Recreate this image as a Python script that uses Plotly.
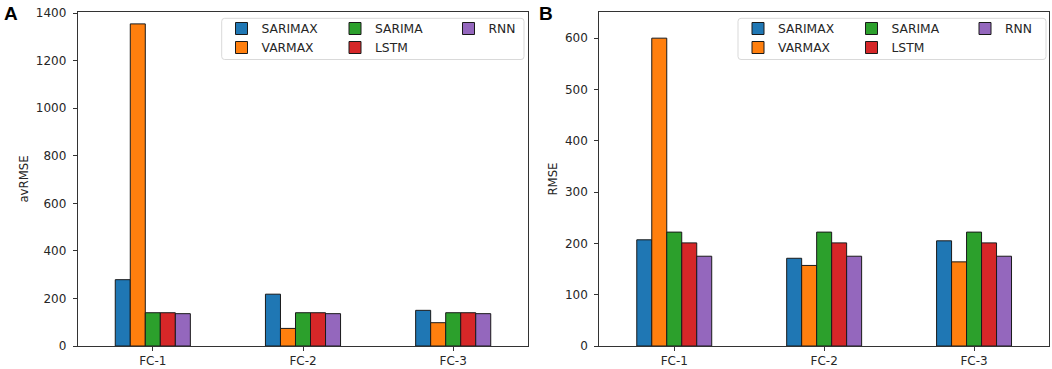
import plotly.graph_objects as go

categories = ["FC-1", "FC-2", "FC-3"]
models = ["SARIMAX", "VARMAX", "SARIMA", "LSTM", "RNN"]
colors = ["#1f77b4", "#ff7f0e", "#2ca02c", "#d62728", "#9467bd"]
groups = ["g1", "g1", "g2", "g2", "g3"]

avrmse_sarimax = [279, 218, 150]
avrmse_varmax = [1355, 74, 98]
avrmse_sarima = [140, 140, 140]
avrmse_lstm = [140, 140, 140]
avrmse_rnn = [136, 136, 136]

rmse_sarimax = [207, 171, 205]
rmse_varmax = [600, 157, 164]
rmse_sarima = [222, 222, 222]
rmse_lstm = [201, 201, 201]
rmse_rnn = [175, 175, 175]

panel_a = [avrmse_sarimax, avrmse_varmax, avrmse_sarima, avrmse_lstm, avrmse_rnn]
panel_b = [rmse_sarimax, rmse_varmax, rmse_sarima, rmse_lstm, rmse_rnn]

FONT = "DejaVu Sans"
TXT = "#262626"
W, H = 1052, 369


def px(x):
    return x / W


def py(y):
    return 1 - y / H


def rounded_box(x0, y0, x1, y1, r=3):
    pts = [
        f"M{px(x0 + r)},{py(y0)}",
        f"L{px(x1 - r)},{py(y0)}",
        f"Q{px(x1)},{py(y0)} {px(x1)},{py(y0 + r)}",
        f"L{px(x1)},{py(y1 - r)}",
        f"Q{px(x1)},{py(y1)} {px(x1 - r)},{py(y1)}",
        f"L{px(x0 + r)},{py(y1)}",
        f"Q{px(x0)},{py(y1)} {px(x0)},{py(y1 - r)}",
        f"L{px(x0)},{py(y0 + r)}",
        f"Q{px(x0)},{py(y0)} {px(x0 + r)},{py(y0)}",
        "Z",
    ]
    return dict(type="path", xref="paper", yref="paper", path=" ".join(pts),
                fillcolor="white", line=dict(color="#d9d9d9", width=1), layer="above")


fig = go.Figure()
for name, col, grp, vals in zip(models, colors, groups, panel_a):
    fig.add_trace(go.Bar(x=categories, y=vals, name=name, marker=dict(color=col, line=dict(color="#1a1a1a", width=1)),
                         xaxis="x", yaxis="y", legend="legend", legendgroup=grp + "a"))
for name, col, grp, vals in zip(models, colors, groups, panel_b):
    fig.add_trace(go.Bar(x=categories, y=vals, name=name, marker=dict(color=col, line=dict(color="#1a1a1a", width=1)),
                         xaxis="x2", yaxis="y2", legend="legend2", legendgroup=grp + "b"))

axis_common = dict(showline=True, mirror=True, linecolor="#333333", linewidth=1, ticks="outside", ticklen=4,
                   tickcolor="#333333", showgrid=False, zeroline=False, automargin=False,
                   tickfont=dict(family=FONT, size=12, color=TXT))

legend_common = dict(orientation="h", traceorder="grouped", xanchor="left", yanchor="top",
                     bgcolor="rgba(0,0,0,0)", borderwidth=0, entrywidth=68.5,
                     font=dict(family=FONT, size=12.3, color=TXT), tracegroupgap=0)

ydom = [py(346), py(12)]
fig.update_layout(
    width=W, height=H, autosize=False, margin=dict(l=0, r=0, t=0, b=0, autoexpand=False),
    plot_bgcolor="white", paper_bgcolor="white",
    barmode="group", bargap=0.5, bargroupgap=0,
    xaxis=dict(domain=[px(77.7), px(528.3)], type="category", range=[-0.5, 2.5], anchor="y", **axis_common),
    yaxis=dict(domain=ydom, range=[0, 1405], dtick=200, anchor="x", ticklabelstandoff=4,
               title=dict(text="avRMSE", standoff=4.5, font=dict(family=FONT, size=11.7, color=TXT)), **axis_common),
    xaxis2=dict(domain=[px(599.3), px(1049)], type="category", range=[-0.5, 2.5], anchor="y2", **axis_common),
    yaxis2=dict(domain=ydom, range=[0, 651], dtick=100, anchor="x2", ticklabelstandoff=4,
                title=dict(text="RMSE", standoff=4.5, font=dict(family=FONT, size=11.7, color=TXT)), **axis_common),
    legend=dict(x=px(221.5), y=py(14), **legend_common),
    legend2=dict(x=px(738), y=py(14), **legend_common),
    shapes=[rounded_box(221.7, 18.3, 524, 59.5), rounded_box(738, 18.3, 1046, 59.5)],
    annotations=[
        dict(text="<b>A</b>", x=px(2), y=py(1), xref="paper", yref="paper", xanchor="left", yanchor="top",
             showarrow=False, font=dict(family="Liberation Sans", size=19, color="black")),
        dict(text="<b>B</b>", x=px(537), y=py(1), xref="paper", yref="paper", xanchor="left", yanchor="top",
             showarrow=False, font=dict(family="Liberation Sans", size=19, color="black")),
    ],
)

fig.write_html("out.html", config={"displayModeBar": False, "responsive": False},
               post_script="document.body.style.margin='0';document.body.style.overflow='hidden';")
